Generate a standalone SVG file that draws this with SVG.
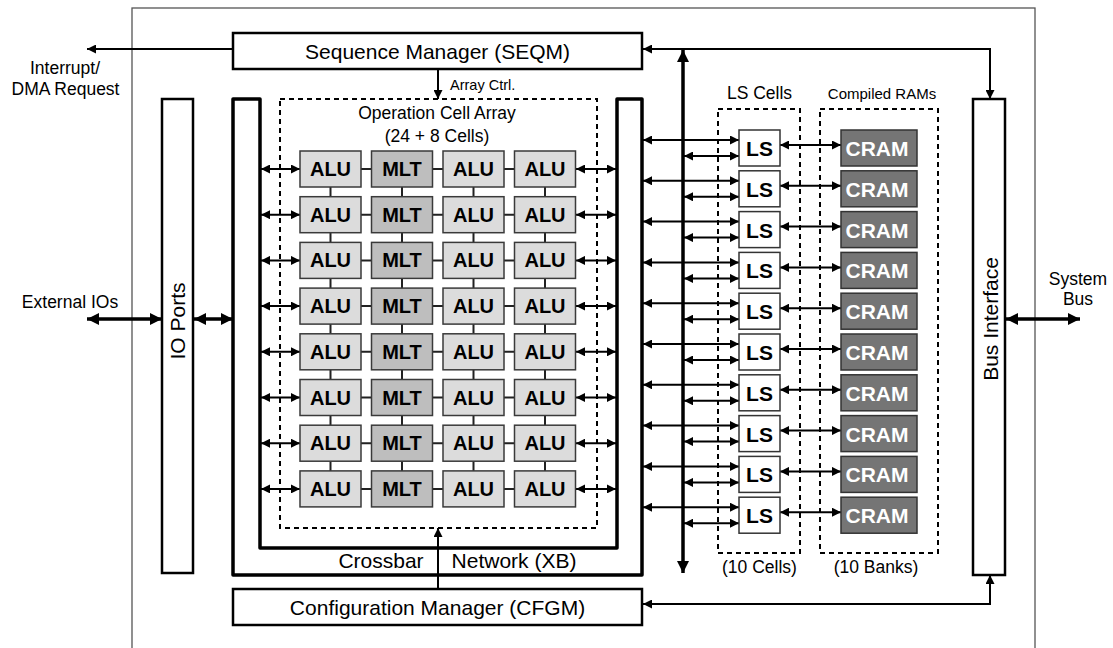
<svg xmlns="http://www.w3.org/2000/svg" width="1113" height="648" viewBox="0 0 1113 648">
<defs>
<marker id="ah" viewBox="0 0 10 10" refX="10" refY="5" markerWidth="11" markerHeight="9" markerUnits="userSpaceOnUse" orient="auto-start-reverse"><path d="M0,0 L10,5 L0,10 z" fill="#000"/></marker>
<marker id="ahb" viewBox="0 0 10 10" refX="10" refY="5" markerWidth="14" markerHeight="12" markerUnits="userSpaceOnUse" orient="auto-start-reverse"><path d="M0,0 L10,5 L0,10 z" fill="#000"/></marker>
</defs>
<style>
text{font-family:"Liberation Sans",Arial,sans-serif;fill:#000}
.box{fill:#fff;stroke:#000;stroke-width:2.5}
.dash{fill:none;stroke:#000;stroke-width:2;stroke-dasharray:5,4}
.alu{fill:#dcdcdc;stroke:#3a3a3a;stroke-width:1.5}
.mlt{fill:#bebebe;stroke:#3a3a3a;stroke-width:1.5}
.ls{fill:#fff;stroke:#333;stroke-width:1.5}
.cram{fill:#757575;stroke:#333;stroke-width:1.5}
.ct{font-weight:bold;font-size:20px;text-anchor:middle}
.cr{font-weight:bold;font-size:21px;text-anchor:middle;fill:#fff}
.lbl{font-size:21px;text-anchor:middle}
.sm{font-size:17.5px;text-anchor:middle}
.w{stroke:#222;stroke-width:2;fill:none}
.a{stroke:#000;stroke-width:2;fill:none}
.a2{stroke:#000;stroke-width:2;fill:none;marker-start:url(#ah);marker-end:url(#ah)}
.a1{stroke:#000;stroke-width:2;fill:none;marker-end:url(#ah)}
.b2{stroke:#000;stroke-width:3.5;fill:none;marker-start:url(#ahb);marker-end:url(#ahb)}
</style>
<rect x="0" y="0" width="1113" height="648" fill="#fff"/>
<rect x="132" y="8" width="903" height="680" fill="none" stroke="#555" stroke-width="1.3"/>

<g id="crossbar">
<path d="M233,99 L260,99 L260,548 L617,548 L617,99 L642,99 L642,575 L233,575 Z" fill="#fff" stroke="#000" stroke-width="3.5" stroke-linejoin="round"/>
<text x="381" y="568" class="lbl">Crossbar</text>
<text x="514" y="568" class="lbl">Network (XB)</text>
</g>

<g id="seqm">
<rect x="233" y="33" width="409" height="36" class="box"/>
<text x="437.5" y="58.5" class="lbl">Sequence Manager (SEQM)</text>
</g>
<g id="cfgm">
<rect x="233" y="589" width="409" height="36" class="box"/>
<text x="437.5" y="615" class="lbl">Configuration Manager (CFGM)</text>
</g>
<g id="ioports">
<rect x="162" y="99" width="31" height="474" class="box"/>
<text transform="translate(185,321) rotate(-90)" class="lbl">IO Ports</text>
</g>
<g id="businterface">
<rect x="973" y="99" width="32" height="476" class="box"/>
<text transform="translate(998,319) rotate(-90)" class="lbl">Bus Interface</text>
</g>

<g id="labels">
<text x="65" y="74" class="sm">Interrupt/</text>
<text x="65.5" y="95" class="sm">DMA Request</text>
<text x="70" y="308" class="sm">External IOs</text>
<text x="1078" y="285" class="sm">System</text>
<text x="1078" y="305" class="sm">Bus</text>
<text x="450" y="90" style="font-size:14.5px">Array Ctrl.</text>
<text x="759.5" y="99" class="sm">LS Cells</text>
<text x="882" y="99" style="font-size:15px;text-anchor:middle">Compiled RAMs</text>
<text x="759.5" y="573" class="sm">(10 Cells)</text>
<text x="876" y="573" class="sm">(10 Banks)</text>
</g>

<g id="cellarray">
<rect x="280" y="99" width="317" height="429" class="dash"/>
<text x="437" y="119" style="font-size:17.5px;text-anchor:middle">Operation Cell Array</text>
<text x="437" y="142" style="font-size:17.5px;text-anchor:middle">(24 + 8 Cells)</text>
</g>

<g id="lscells"><rect x="718" y="109" width="82" height="444" class="dash"/></g>
<g id="crams"><rect x="820" y="109" width="118" height="444" class="dash"/></g>

<g id="connectors">
<!-- grid wiring -->
<g class="w">
<path d="M361,169 H371.5 M432.5,169 H443 M504,169 H514.5 M361,214.7 H371.5 M432.5,214.7 H443 M504,214.7 H514.5 M361,260.4 H371.5 M432.5,260.4 H443 M504,260.4 H514.5 M361,306.1 H371.5 M432.5,306.1 H443 M504,306.1 H514.5 M361,351.8 H371.5 M432.5,351.8 H443 M504,351.8 H514.5 M361,397.5 H371.5 M432.5,397.5 H443 M504,397.5 H514.5 M361,443.2 H371.5 M432.5,443.2 H443 M504,443.2 H514.5 M361,488.9 H371.5 M432.5,488.9 H443 M504,488.9 H514.5"/>
<path d="M330.5,187 V196.7 M402,187 V196.7 M473.5,187 V196.7 M545,187 V196.7 M330.5,232.7 V242.4 M402,232.7 V242.4 M473.5,232.7 V242.4 M545,232.7 V242.4 M330.5,278.4 V288.1 M402,278.4 V288.1 M473.5,278.4 V288.1 M545,278.4 V288.1 M330.5,324.1 V333.8 M402,324.1 V333.8 M473.5,324.1 V333.8 M545,324.1 V333.8 M330.5,369.8 V379.5 M402,369.8 V379.5 M473.5,369.8 V379.5 M545,369.8 V379.5 M330.5,415.5 V425.2 M402,415.5 V425.2 M473.5,415.5 V425.2 M545,415.5 V425.2 M330.5,461.2 V470.9 M402,461.2 V470.9 M473.5,461.2 V470.9 M545,461.2 V470.9"/>
</g>
<!-- array side arrows -->
<path class="a2" d="M261,169 H300"/><path class="a2" d="M576,169 H616"/>
<path class="a2" d="M261,214.7 H300"/><path class="a2" d="M576,214.7 H616"/>
<path class="a2" d="M261,260.4 H300"/><path class="a2" d="M576,260.4 H616"/>
<path class="a2" d="M261,306.1 H300"/><path class="a2" d="M576,306.1 H616"/>
<path class="a2" d="M261,351.8 H300"/><path class="a2" d="M576,351.8 H616"/>
<path class="a2" d="M261,397.5 H300"/><path class="a2" d="M576,397.5 H616"/>
<path class="a2" d="M261,443.2 H300"/><path class="a2" d="M576,443.2 H616"/>
<path class="a2" d="M261,488.9 H300"/><path class="a2" d="M576,488.9 H616"/>
<!-- LS arrows -->
<path class="a2" d="M643,140 H739"/><path class="a2" d="M684,156 H739"/><path class="a2" d="M780,145 H841"/>
<path class="a2" d="M643,180.8 H739"/><path class="a2" d="M684,196.8 H739"/><path class="a2" d="M780,185.8 H841"/>
<path class="a2" d="M643,221.6 H739"/><path class="a2" d="M684,237.6 H739"/><path class="a2" d="M780,226.6 H841"/>
<path class="a2" d="M643,262.4 H739"/><path class="a2" d="M684,278.4 H739"/><path class="a2" d="M780,267.4 H841"/>
<path class="a2" d="M643,303.2 H739"/><path class="a2" d="M684,319.2 H739"/><path class="a2" d="M780,308.2 H841"/>
<path class="a2" d="M643,344 H739"/><path class="a2" d="M684,360 H739"/><path class="a2" d="M780,349 H841"/>
<path class="a2" d="M643,384.8 H739"/><path class="a2" d="M684,400.8 H739"/><path class="a2" d="M780,389.8 H841"/>
<path class="a2" d="M643,425.6 H739"/><path class="a2" d="M684,441.6 H739"/><path class="a2" d="M780,430.6 H841"/>
<path class="a2" d="M643,466.4 H739"/><path class="a2" d="M684,482.4 H739"/><path class="a2" d="M780,471.4 H841"/>
<path class="a2" d="M643,507.2 H739"/><path class="a2" d="M684,523.2 H739"/><path class="a2" d="M780,512.2 H841"/>
<!-- vertical bus -->
<path d="M683,50 V573" stroke="#000" stroke-width="3.5" fill="none" marker-start="url(#ahb)" marker-end="url(#ahb)"/>
<!-- SEQM links -->
<path class="a1" d="M233,49 H87"/>
<path class="a2" d="M643,49 H990 V99"/>
<path class="a1" d="M438,69 V99"/>
<!-- CFGM links -->
<path class="a2" d="M643,604 H990 V575"/>
<path class="a1" d="M438,589 V528"/>
<!-- IO arrows -->
<path class="b2" d="M87,319 H162"/>
<path class="b2" d="M194,319 H233"/>
<path class="b2" d="M1006,319 H1080"/>
</g>

<g id="cells">
<g id="row1"><rect x="300" y="151" width="61" height="36" class="alu"/><text x="330.5" y="176" class="ct">ALU</text><rect x="371.5" y="151" width="61" height="36" class="mlt"/><text x="402" y="176" class="ct">MLT</text><rect x="443" y="151" width="61" height="36" class="alu"/><text x="473.5" y="176" class="ct">ALU</text><rect x="514.5" y="151" width="61" height="36" class="alu"/><text x="545" y="176" class="ct">ALU</text></g>
<g id="row2"><rect x="300" y="196.7" width="61" height="36" class="alu"/><text x="330.5" y="221.7" class="ct">ALU</text><rect x="371.5" y="196.7" width="61" height="36" class="mlt"/><text x="402" y="221.7" class="ct">MLT</text><rect x="443" y="196.7" width="61" height="36" class="alu"/><text x="473.5" y="221.7" class="ct">ALU</text><rect x="514.5" y="196.7" width="61" height="36" class="alu"/><text x="545" y="221.7" class="ct">ALU</text></g>
<g id="row3"><rect x="300" y="242.4" width="61" height="36" class="alu"/><text x="330.5" y="267.4" class="ct">ALU</text><rect x="371.5" y="242.4" width="61" height="36" class="mlt"/><text x="402" y="267.4" class="ct">MLT</text><rect x="443" y="242.4" width="61" height="36" class="alu"/><text x="473.5" y="267.4" class="ct">ALU</text><rect x="514.5" y="242.4" width="61" height="36" class="alu"/><text x="545" y="267.4" class="ct">ALU</text></g>
<g id="row4"><rect x="300" y="288.1" width="61" height="36" class="alu"/><text x="330.5" y="313.1" class="ct">ALU</text><rect x="371.5" y="288.1" width="61" height="36" class="mlt"/><text x="402" y="313.1" class="ct">MLT</text><rect x="443" y="288.1" width="61" height="36" class="alu"/><text x="473.5" y="313.1" class="ct">ALU</text><rect x="514.5" y="288.1" width="61" height="36" class="alu"/><text x="545" y="313.1" class="ct">ALU</text></g>
<g id="row5"><rect x="300" y="333.8" width="61" height="36" class="alu"/><text x="330.5" y="358.8" class="ct">ALU</text><rect x="371.5" y="333.8" width="61" height="36" class="mlt"/><text x="402" y="358.8" class="ct">MLT</text><rect x="443" y="333.8" width="61" height="36" class="alu"/><text x="473.5" y="358.8" class="ct">ALU</text><rect x="514.5" y="333.8" width="61" height="36" class="alu"/><text x="545" y="358.8" class="ct">ALU</text></g>
<g id="row6"><rect x="300" y="379.5" width="61" height="36" class="alu"/><text x="330.5" y="404.5" class="ct">ALU</text><rect x="371.5" y="379.5" width="61" height="36" class="mlt"/><text x="402" y="404.5" class="ct">MLT</text><rect x="443" y="379.5" width="61" height="36" class="alu"/><text x="473.5" y="404.5" class="ct">ALU</text><rect x="514.5" y="379.5" width="61" height="36" class="alu"/><text x="545" y="404.5" class="ct">ALU</text></g>
<g id="row7"><rect x="300" y="425.2" width="61" height="36" class="alu"/><text x="330.5" y="450.2" class="ct">ALU</text><rect x="371.5" y="425.2" width="61" height="36" class="mlt"/><text x="402" y="450.2" class="ct">MLT</text><rect x="443" y="425.2" width="61" height="36" class="alu"/><text x="473.5" y="450.2" class="ct">ALU</text><rect x="514.5" y="425.2" width="61" height="36" class="alu"/><text x="545" y="450.2" class="ct">ALU</text></g>
<g id="row8"><rect x="300" y="470.9" width="61" height="36" class="alu"/><text x="330.5" y="495.9" class="ct">ALU</text><rect x="371.5" y="470.9" width="61" height="36" class="mlt"/><text x="402" y="495.9" class="ct">MLT</text><rect x="443" y="470.9" width="61" height="36" class="alu"/><text x="473.5" y="495.9" class="ct">ALU</text><rect x="514.5" y="470.9" width="61" height="36" class="alu"/><text x="545" y="495.9" class="ct">ALU</text></g>
</g>

<g id="lsbank">
<g id="ls1"><rect x="739" y="130" width="41" height="36" class="ls"/><text x="759.5" y="156" class="ct" style="font-size:21px">LS</text><rect x="841" y="130" width="76" height="36" class="cram"/><text x="877" y="156" class="cr">CRAM</text></g>
<g id="ls2"><rect x="739" y="170.8" width="41" height="36" class="ls"/><text x="759.5" y="196.8" class="ct" style="font-size:21px">LS</text><rect x="841" y="170.8" width="76" height="36" class="cram"/><text x="877" y="196.8" class="cr">CRAM</text></g>
<g id="ls3"><rect x="739" y="211.6" width="41" height="36" class="ls"/><text x="759.5" y="237.6" class="ct" style="font-size:21px">LS</text><rect x="841" y="211.6" width="76" height="36" class="cram"/><text x="877" y="237.6" class="cr">CRAM</text></g>
<g id="ls4"><rect x="739" y="252.4" width="41" height="36" class="ls"/><text x="759.5" y="278.4" class="ct" style="font-size:21px">LS</text><rect x="841" y="252.4" width="76" height="36" class="cram"/><text x="877" y="278.4" class="cr">CRAM</text></g>
<g id="ls5"><rect x="739" y="293.2" width="41" height="36" class="ls"/><text x="759.5" y="319.2" class="ct" style="font-size:21px">LS</text><rect x="841" y="293.2" width="76" height="36" class="cram"/><text x="877" y="319.2" class="cr">CRAM</text></g>
<g id="ls6"><rect x="739" y="334" width="41" height="36" class="ls"/><text x="759.5" y="360" class="ct" style="font-size:21px">LS</text><rect x="841" y="334" width="76" height="36" class="cram"/><text x="877" y="360" class="cr">CRAM</text></g>
<g id="ls7"><rect x="739" y="374.8" width="41" height="36" class="ls"/><text x="759.5" y="400.8" class="ct" style="font-size:21px">LS</text><rect x="841" y="374.8" width="76" height="36" class="cram"/><text x="877" y="400.8" class="cr">CRAM</text></g>
<g id="ls8"><rect x="739" y="415.6" width="41" height="36" class="ls"/><text x="759.5" y="441.6" class="ct" style="font-size:21px">LS</text><rect x="841" y="415.6" width="76" height="36" class="cram"/><text x="877" y="441.6" class="cr">CRAM</text></g>
<g id="ls9"><rect x="739" y="456.4" width="41" height="36" class="ls"/><text x="759.5" y="482.4" class="ct" style="font-size:21px">LS</text><rect x="841" y="456.4" width="76" height="36" class="cram"/><text x="877" y="482.4" class="cr">CRAM</text></g>
<g id="ls10"><rect x="739" y="497.2" width="41" height="36" class="ls"/><text x="759.5" y="523.2" class="ct" style="font-size:21px">LS</text><rect x="841" y="497.2" width="76" height="36" class="cram"/><text x="877" y="523.2" class="cr">CRAM</text></g>
</g>
</svg>
